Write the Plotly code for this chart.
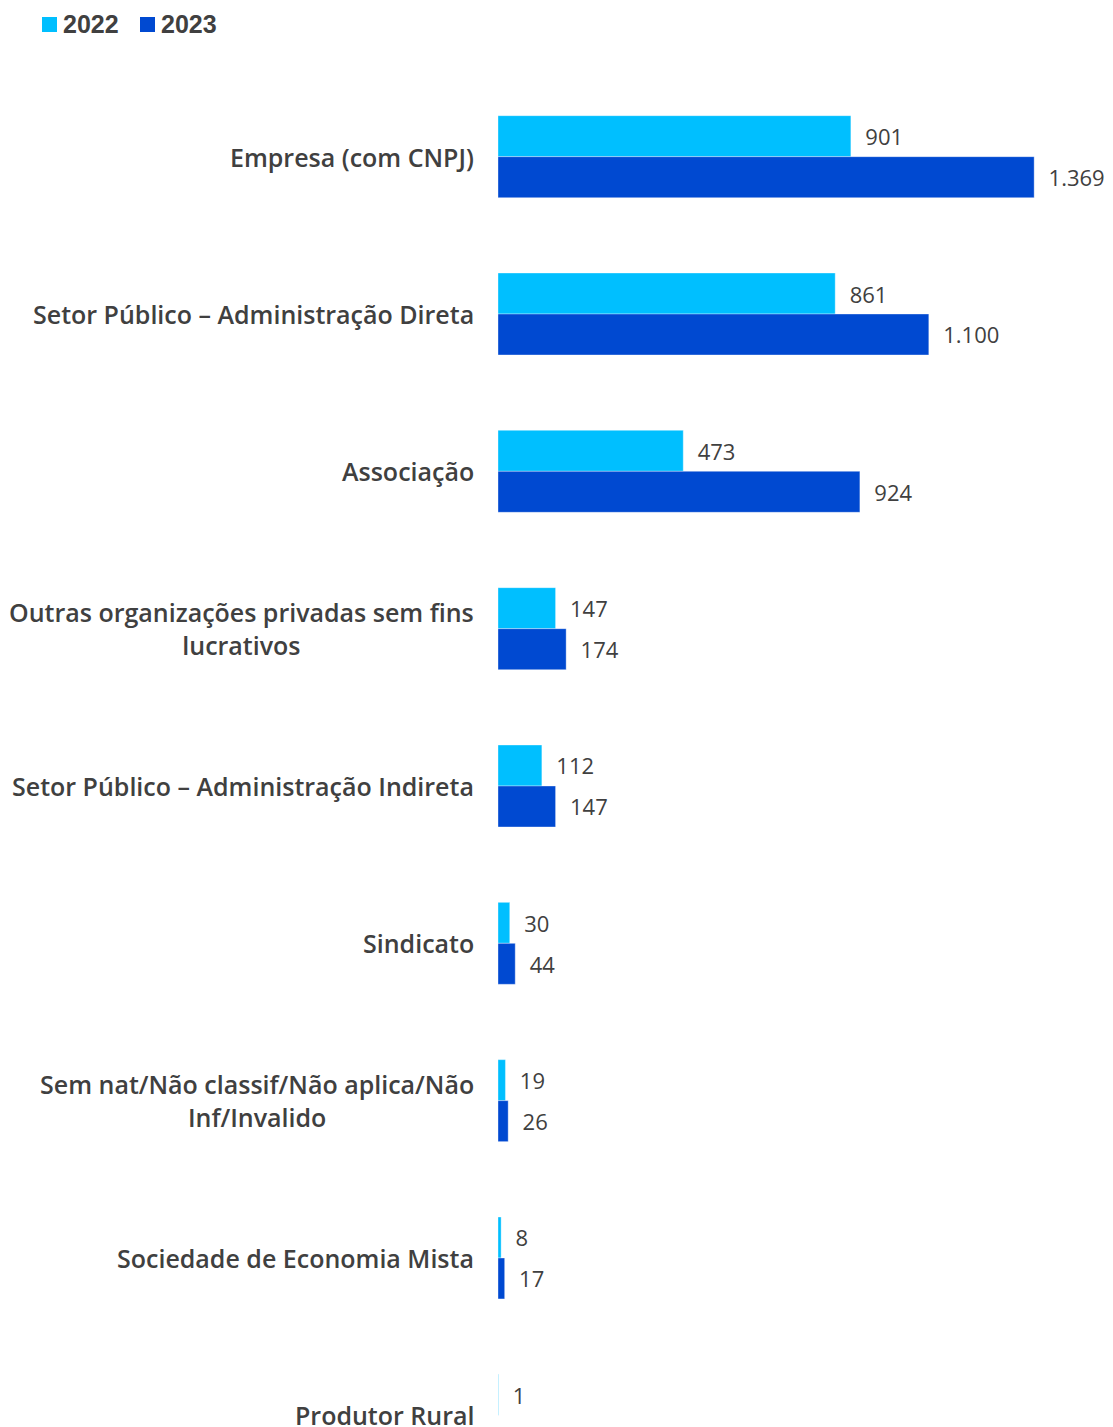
import plotly.graph_objects as go

categories = [
    "Empresa (com CNPJ)",
    "Setor Público – Administração Direta",
    "Associação",
    "Outras organizações privadas sem fins<br>lucrativos",
    "Setor Público – Administração Indireta",
    "Sindicato",
    "Sem nat/Não classif/Não aplica/Não<br>Inf/Invalido",
    "Sociedade de Economia Mista",
    "Produtor Rural",
]
series_names = ["2022", "2023"]
values_2022 = [901, 861, 473, 147, 112, 30, 19, 8, 1]
values_2023 = [1369, 1100, 924, 174, 147, 44, 26, 17, None]

COL_2022 = "#00BFFF"
COL_2023 = "#0049D1"
TXT = "#404040"

W = 1097
H = 1500
L = 490
PLOT_W = 600
R = W - L - PLOT_W
T = 70
B = 0
PLOT_H = H - T - B
BAND = 157.33

fig = go.Figure()
for name, vals, col in [(series_names[0], values_2022, COL_2022), (series_names[1], values_2023, COL_2023)]:
    fig.add_trace(go.Bar(
        name=name, y=categories, x=vals, orientation="h",
        marker=dict(color=col, line=dict(color="rgba(255,255,255,0.35)", width=1)),
        texttemplate="\u00a0\u00a0%{x:,}", textposition="outside",
        textfont=dict(family="Open Sans", size=22, color=TXT),
        constraintext="none", cliponaxis=False,
    ))

for c in categories:
    fig.add_annotation(
        x=0, xref="paper", y=c, yref="y", xanchor="right", xshift=-22,
        text=c, showarrow=False, align="center",
        font=dict(family="Open Sans", size=25, color=TXT, weight=600),
    )

# legend drawn as layout items (page pixel -> paper coords)
def px(x):
    return (x - 8 - L) / PLOT_W

def py(y):
    return 1 + (T + 8 - y) / PLOT_H

for name, col, sx in [(series_names[0], COL_2022, 42), (series_names[1], COL_2023, 140)]:
    fig.add_shape(type="rect", xref="paper", yref="paper",
                  x0=px(sx), x1=px(sx + 15), y0=py(32), y1=py(17),
                  fillcolor=col, line=dict(width=0))
    fig.add_annotation(x=px(sx + 19), y=py(23.5), xref="paper", yref="paper",
                       xanchor="left", yanchor="middle", showarrow=False, text=name,
                       font=dict(family="Liberation Sans", size=25, color=TXT, weight="bold"))

fig.update_layout(
    width=W, height=H,
    margin=dict(l=L, r=R, t=T, b=B),
    barmode="group", bargap=0.479, bargroupgap=0,
    separators=",.",
    plot_bgcolor="white", paper_bgcolor="white",
    showlegend=False,
    xaxis=dict(range=[0, 1532], visible=False),
    yaxis=dict(range=[-0.5 + PLOT_H / BAND, -0.5], showticklabels=False, showgrid=False,
               zeroline=False, showline=False, ticks=""),
)

fig.write_html("out.html")
